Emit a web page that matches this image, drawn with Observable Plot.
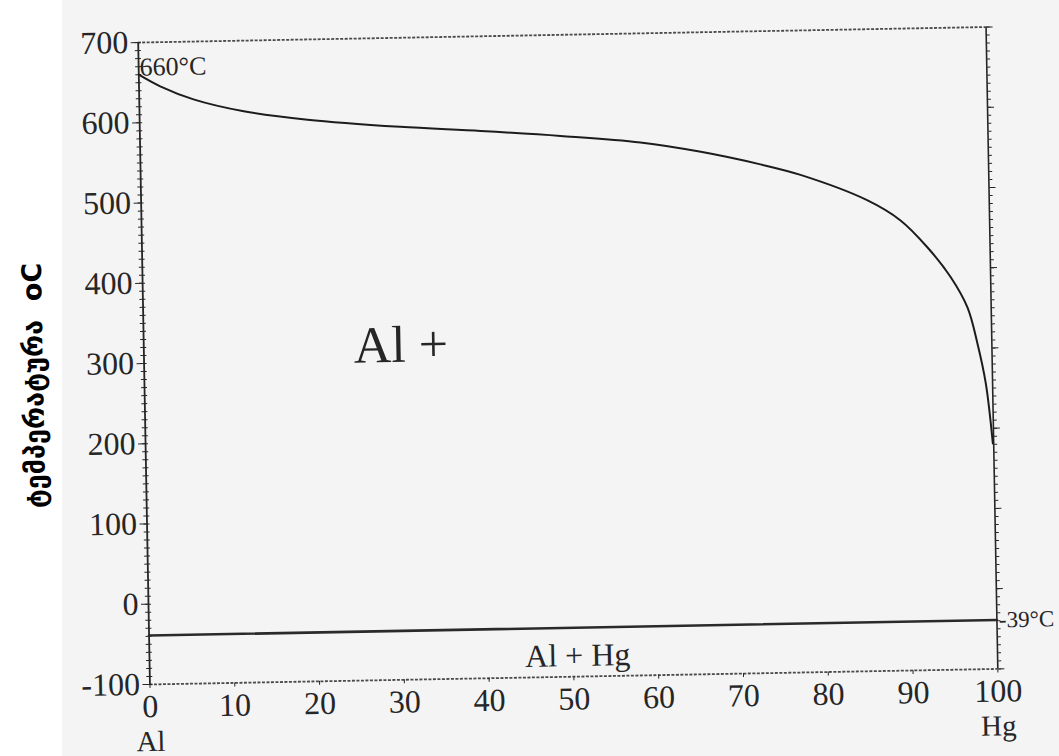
<!DOCTYPE html>
<html><head><meta charset="utf-8">
<script src="https://cdn.jsdelivr.net/npm/d3@7"></script>
<script src="https://cdn.jsdelivr.net/npm/@observablehq/plot@0.6"></script>
<style>
html,body{margin:0;padding:0;background:#fff;}
#wrap{position:relative;width:1059px;height:756px;overflow:hidden;}
#scan{position:absolute;left:62px;top:0;right:0;bottom:0;background:#f4f4f4;}
#chart{position:absolute;left:0;top:0;}
</style></head><body>
<div id="wrap"><div id="scan"></div><div id="chart"></div></div>
<script>
// Liquidus (Al-Hg), mass % Hg vs temperature °C
const liquidusPct  = [0, 2.5, 6.4, 12.3, 19.8, 30.7, 40.2, 49.6, 59.0, 66.1, 73.1, 77.8, 85.6, 89.5, 92.6, 95.3, 97.2, 98.3, 99.2, 99.9];
const liquidusTemp = [660, 645, 628, 612, 600, 589, 582, 574, 564, 551, 534, 520, 487, 461, 427, 389, 351, 306, 256, 181];
// Eutectic / solidus line
const solidusPct  = [0, 100];
const solidusTemp = [-39, -39];

const xTicks = [0,10,20,30,40,50,60,70,80,90,100];
const xTickLabels = ["0","10","20","30","40","50","60","70","80","90","100"];
const endLabels = ["Al", "Hg"];
const endPct = [0, 100];
const yTicks = [-100,0,100,200,300,400,500,600,700];
const yTickLabels = ["-100","0","100","200","300","400","500","600","700"];
const yMinor = [-100,-90,-80,-70,-60,-50,-40,-30,-20,-10,0,10,20,30,40,50,60,70,80,90,100,110,120,130,140,150,160,170,180,190,200,210,220,230,240,250,260,270,280,290,300,310,320,330,340,350,360,370,380,390,400,410,420,430,440,450,460,470,480,490,500,510,520,530,540,550,560,570,580,590,600,610,620,630,640,650,660,670,680,690,700];

const annoText = ["660°C", "-39°C", "Al +", "Al + Hg"];
const annoPct  = [0, 100, 30.3, 50.5];
const annoTemp = [669, -39, 317, -74];
const yLabel = "ტემპერატურა  oC";

const liquidus = liquidusPct.map((p, i) => ({pct: p, temp: liquidusTemp[i]}));
const solidus = solidusPct.map((p, i) => ({pct: p, temp: solidusTemp[i]}));
const anno = annoText.map((t, i) => ({text: t, pct: annoPct[i], temp: annoTemp[i]}));
const ends = endLabels.map((t, i) => ({text: t, pct: endPct[i]}));
const ink = "#262626";

const chart = Plot.plot({
  width: 1059, height: 756,
  marginLeft: 143.5, marginRight: 67.5, marginTop: 34.25, marginBottom: 79.75,
  x: {domain: [0, 100]},
  y: {domain: [-100, 700]},
  style: {fontFamily: "'Liberation Serif', 'Times New Roman', serif", background: "transparent", overflow: "visible", color: ink},
  marks: [
    Plot.ruleY([700], {stroke: "#4a4a4a", strokeWidth: 1.8, strokeDasharray: "3 1.5"}),
    Plot.ruleY([-100], {stroke: "#4a4a4a", strokeWidth: 1.8, strokeDasharray: "3 1.5"}),
    Plot.ruleX([0], {stroke: ink, strokeWidth: 1.8}),
    Plot.ruleX([100], {stroke: ink, strokeWidth: 1.6}),
    Plot.axisY({anchor: "left", ticks: yTicks, tickFormat: d => yTickLabels[yTicks.indexOf(d)], tickSize: 7, tickPadding: 3, fontSize: 32, label: null, color: ink}),
    Plot.axisY({anchor: "left", ticks: yMinor, tickSize: 3, fill: "none", label: null, stroke: ink}),
    Plot.ruleY(yMinor, {y: d => d, x1: 0, x2: 0.35, stroke: ink}),
    Plot.axisY({anchor: "right", ticks: yMinor, tickSize: 3, fill: "none", label: null, stroke: ink}),
    Plot.axisY({anchor: "right", ticks: yTicks, tickSize: 6, fill: "none", label: null, stroke: ink}),
    Plot.axisX({anchor: "bottom", ticks: xTicks, tickFormat: d => xTickLabels[xTicks.indexOf(d)], tickSize: 4, tickPadding: 6, fontSize: 32, label: null, color: ink}),
    Plot.text(ends, {x: "pct", frameAnchor: "bottom", text: "text", lineAnchor: "top", dy: 46, fontSize: 29, fill: ink}),
    Plot.line(liquidus, {x: "pct", y: "temp", curve: "catmull-rom", stroke: "#1c1c1c", strokeWidth: 2}),
    Plot.line(solidus, {x: "pct", y: "temp", stroke: "#2a2a2a", strokeWidth: 2.6}),
    Plot.text(anno.slice(0, 1), {x: "pct", y: "temp", text: "text", textAnchor: "start", dx: 1, fontSize: 26, fill: ink}),
    Plot.text(anno.slice(1, 2), {x: "pct", y: "temp", text: "text", textAnchor: "start", dx: 2, fontSize: 23, fill: ink}),
    Plot.text(anno.slice(2, 3), {x: "pct", y: "temp", text: "text", textAnchor: "middle", fontSize: 52, fill: ink}),
    Plot.text(anno.slice(3, 4), {x: "pct", y: "temp", text: "text", textAnchor: "middle", fontSize: 32, fill: ink}),
    Plot.text([yLabel], {frameAnchor: "left", textAnchor: "middle", dx: -110, dy: 20, rotate: -90, text: d => d, fontFamily: "'DejaVu Sans', sans-serif", fontWeight: "bold", fontSize: 27, fill: "#000", ariaLabel: "ylabel"})
  ]
});

// The scanned figure is tilted by about 1°: rotate everything except the y label.
const ns = "http://www.w3.org/2000/svg";
const g = document.createElementNS(ns, "g");
g.setAttribute("transform", "rotate(-1.05 567.5 355.25)");
for (const child of Array.from(chart.childNodes)) {
  if (child.nodeName === "style") continue;
  if (child.getAttribute && child.getAttribute("aria-label") === "ylabel") continue;
  g.appendChild(child);
}
chart.appendChild(g);
document.getElementById("chart").appendChild(chart);
</script>
</body></html>
